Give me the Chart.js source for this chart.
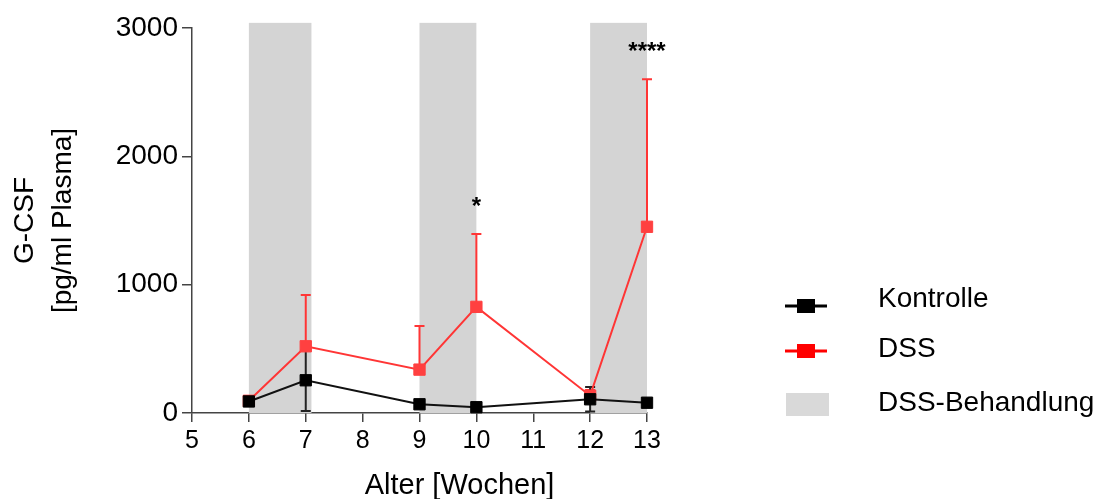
<!DOCTYPE html>
<html>
<head>
<meta charset="utf-8">
<script src="https://cdn.jsdelivr.net/npm/chart.js"></script>
<style>
  html, body { margin: 0; padding: 0; background: #fff; }
  #wrap { width: 1112px; height: 499px; }
</style>
</head>
<body>
<div id="wrap"><canvas id="myChart" width="1112" height="499"></canvas></div>
<script>
// valeurs
const weeks = [6, 7, 9, 10, 12, 13];
const kontrolle = [90, 255, 68, 45, 107, 80];
const kontrolleSem = [20, 240, 25, 20, 95, 20];
const dss = [95, 520, 338, 827, 135, 1451];
const dssSem = [20, 400, 340, 567, 45, 1150];

// periodes DSS (zones grises)
const bandStart = [6, 9, 12];
const bandEnd = [7.1, 10, 13];
const bandTop = 3040;

// etoiles de significativite
const starWeeks = [10, 13];
const starValues = [1600, 2810];
const starLabels = ['*', '****'];

const xTicks = [5, 6, 7, 8, 9, 10, 11, 12, 13];
const yTicks = [0, 1000, 2000, 3000];

const FONT = "'Liberation Sans', Arial, sans-serif";
Chart.defaults.font.family = FONT;
Chart.defaults.color = '#000';

const axisColor = '#444';
const red = '#ff3535';

// zones grises + barres d'erreur
const underPlugin = {
  id: 'under',
  beforeDatasetsDraw(chart) {
    const ctx = chart.ctx;
    const x = chart.scales.x, y = chart.scales.y;
    ctx.save();
    ctx.fillStyle = '#d4d4d4';
    for (let i = 0; i < bandStart.length; i++) {
      const x0 = x.getPixelForValue(bandStart[i]);
      const x1 = x.getPixelForValue(bandEnd[i]);
      const y0 = y.getPixelForValue(bandTop);
      const y1 = y.getPixelForValue(0);
      ctx.fillRect(x0, y0, x1 - x0, y1 - y0);
    }
    // barres d'erreur
    const cap = 5;
    function bar(xv, from, to, color) {
      const px = x.getPixelForValue(xv);
      const p0 = y.getPixelForValue(from);
      const p1 = y.getPixelForValue(to);
      ctx.strokeStyle = color;
      ctx.lineWidth = 2;
      ctx.beginPath();
      ctx.moveTo(px, p0); ctx.lineTo(px, p1);
      ctx.moveTo(px - cap, p1); ctx.lineTo(px + cap, p1);
      ctx.stroke();
    }
    for (let i = 0; i < weeks.length; i++) {
      bar(weeks[i], dss[i], dss[i] + dssSem[i], red);
    }
    for (let i = 0; i < weeks.length; i++) {
      bar(weeks[i], kontrolle[i], kontrolle[i] + kontrolleSem[i], '#222');
      bar(weeks[i], kontrolle[i], kontrolle[i] - kontrolleSem[i], '#222');
    }
    ctx.restore();
  }
};

// etoiles, titre x et legende
const overPlugin = {
  id: 'over',
  afterDraw(chart) {
    const ctx = chart.ctx;
    const x = chart.scales.x, y = chart.scales.y;
    ctx.save();
    ctx.fillStyle = '#000';
    ctx.textAlign = 'center';
    ctx.textBaseline = 'middle';
    ctx.font = 'bold 24px ' + FONT;
    for (let i = 0; i < starWeeks.length; i++) {
      ctx.fillText(starLabels[i], x.getPixelForValue(starWeeks[i]), y.getPixelForValue(starValues[i]));
    }
    // titre axe x
    ctx.font = '29px ' + FONT;
    ctx.fillText('Alter [Wochen]', (chart.chartArea.left + chart.chartArea.right) / 2 + 40, 486);

    // legende
    ctx.textAlign = 'left';
    ctx.font = '28px ' + FONT;
    const items = [
      { label: 'Kontrolle', color: '#000', type: 'line', y: 306, ty: 299 },
      { label: 'DSS', color: '#ff0000', type: 'line', y: 351, ty: 349 },
      { label: 'DSS-Behandlung', color: '#d9d9d9', type: 'box', y: 404, ty: 403 }
    ];
    items.forEach(it => {
      const yy = it.y;
      if (it.type === 'line') {
        ctx.strokeStyle = it.color;
        ctx.lineWidth = 3;
        ctx.beginPath();
        ctx.moveTo(785, yy); ctx.lineTo(827, yy);
        ctx.stroke();
        ctx.fillStyle = it.color;
        ctx.fillRect(797, yy - 7, 18, 14);
      } else {
        ctx.fillStyle = it.color;
        ctx.fillRect(786, yy - 11, 43, 23);
      }
      ctx.fillStyle = '#000';
      ctx.fillText(it.label, 878, it.ty);
    });
    ctx.restore();
  }
};

const myChart = new Chart(document.getElementById('myChart'), {
  type: 'line',
  data: {
    datasets: [
      {
        label: 'Kontrolle',
        data: weeks.map((w, i) => ({ x: w, y: kontrolle[i] })),
        borderColor: '#111',
        backgroundColor: '#000',
        borderWidth: 2,
        pointStyle: 'rect',
        pointRadius: 8,
        pointBorderWidth: 1,
        pointBorderColor: '#000',
        pointBackgroundColor: '#000',
        clip: false,
        order: 0
      },
      {
        label: 'DSS',
        data: weeks.map((w, i) => ({ x: w, y: dss[i] })),
        borderColor: red,
        backgroundColor: red,
        borderWidth: 2,
        pointStyle: 'rect',
        pointRadius: 8,
        pointBorderWidth: 1,
        pointBorderColor: '#ff4040',
        pointBackgroundColor: '#ff4040',
        clip: false,
        order: 1
      }
    ]
  },
  options: {
    responsive: false,
    animation: false,
    layout: { padding: { top: 28, right: 465, left: 0, bottom: 0 } },
    plugins: {
      legend: { display: false },
      tooltip: { enabled: false }
    },
    scales: {
      x: {
        type: 'linear',
        min: 5,
        max: 13,
        afterBuildTicks: s => { s.ticks = xTicks.map(v => ({ value: v })); },
        afterFit: s => { s.height = 86; },
        ticks: { font: { size: 25 }, color: '#000', padding: 4, callback: v => String(v) },
        grid: { drawOnChartArea: false, drawTicks: true, tickLength: 9, color: axisColor, lineWidth: 1.5 },
        border: { display: true, color: axisColor, width: 1.5 }
      },
      y: {
        type: 'linear',
        min: 0,
        max: 3000,
        afterBuildTicks: s => { s.ticks = yTicks.map(v => ({ value: v })); },
        afterFit: s => { s.width = 192; },
        ticks: { font: { size: 28 }, color: '#000', padding: 4, callback: v => String(v) },
        grid: { drawOnChartArea: false, drawTicks: true, tickLength: 10, color: axisColor, lineWidth: 1.5 },
        border: { display: true, color: axisColor, width: 1.5 },
        title: {
          display: true,
          text: ['G-CSF', '[pg/ml Plasma]'],
          font: { size: 28, lineHeight: 1.357 },
          color: '#000',
          padding: { top: 6, bottom: 0 }
        }
      }
    }
  },
  plugins: [underPlugin, overPlugin]
});
</script>
</body>
</html>
